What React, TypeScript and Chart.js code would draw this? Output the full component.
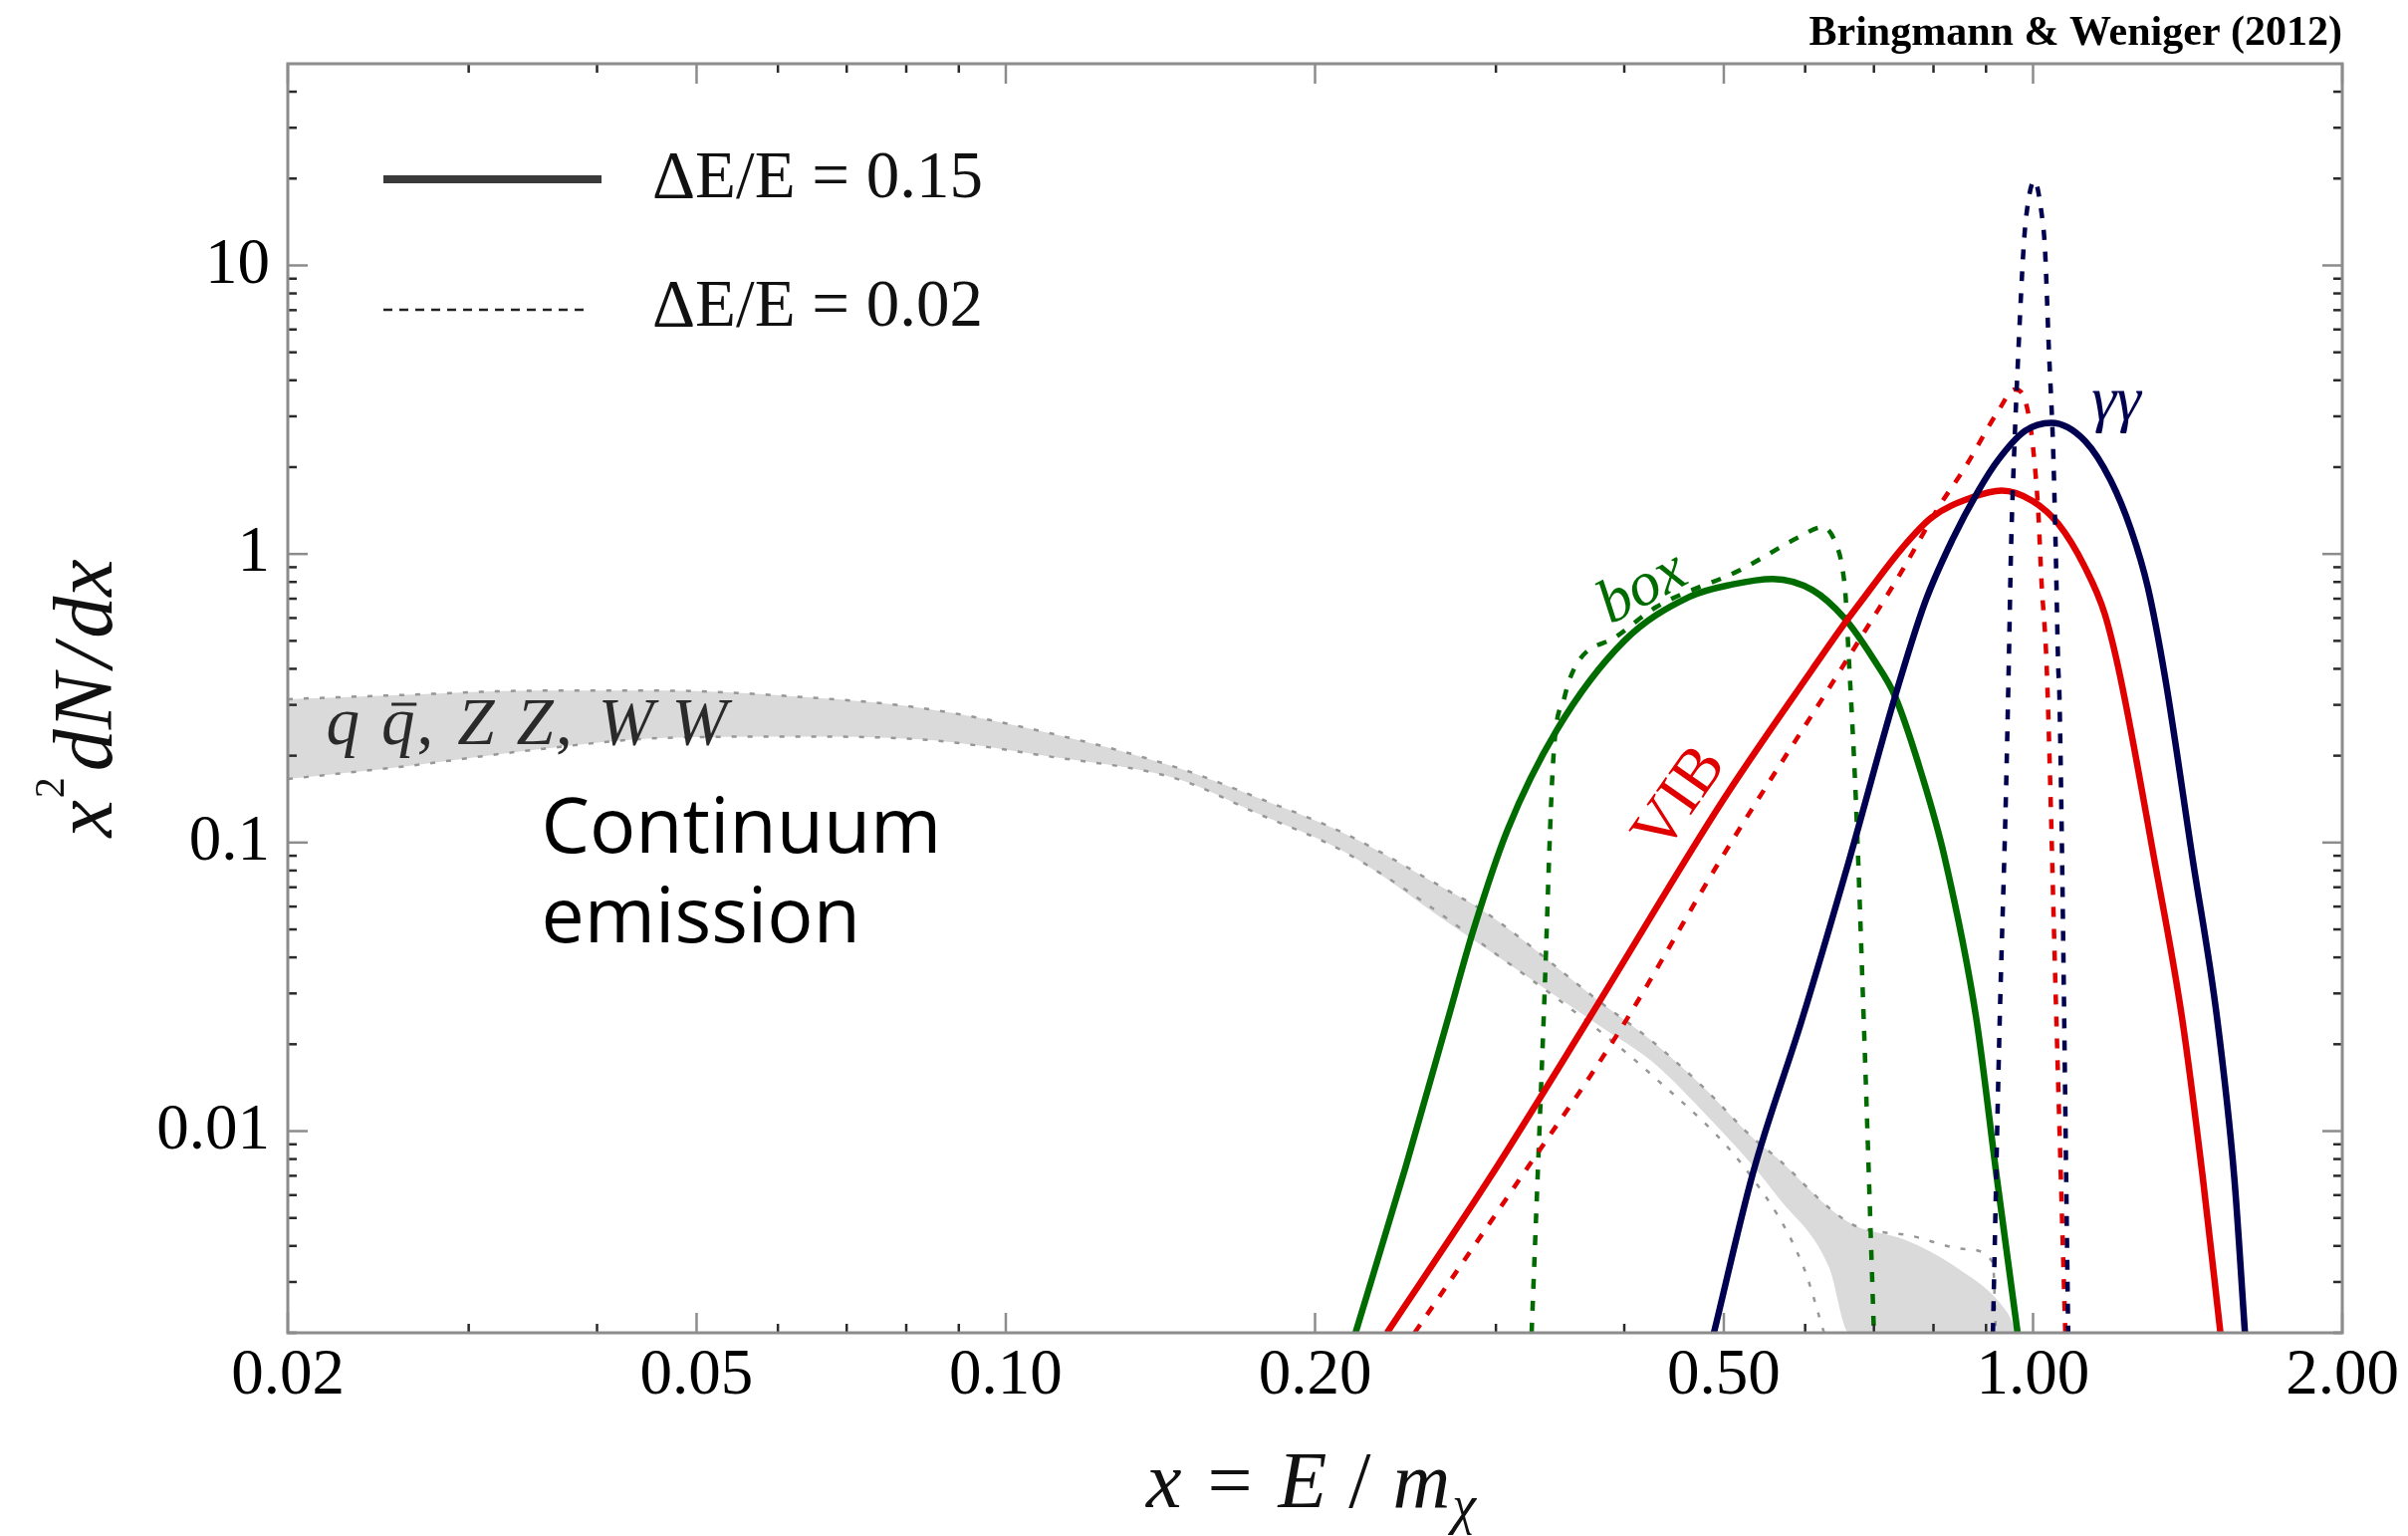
import React, { useEffect, useRef } from "react";
import { Chart, registerables } from "chart.js";

Chart.register(...registerables);

// ---------------- canvas / frame geometry ----------------
const CANVAS_W = 2418;
const CANVAS_H = 1542;
const PLOT = { left: 289, top: 64, right: 2352, bottom: 1338 };

// ---------------- axis ranges & ticks ----------------
const xRange = [0.02, 2];
const yRange = [0.002, 50];
const xTickValues = [0.02, 0.03, 0.04, 0.05, 0.06, 0.07, 0.08, 0.09, 0.1, 0.2, 0.3, 0.4, 0.5, 0.6, 0.7, 0.8, 0.9, 1, 2];
const xMajorTicks = [0.02, 0.05, 0.1, 0.2, 0.5, 1, 2];
const xTickLabels = ["0.02", "0.05", "0.10", "0.20", "0.50", "1.00", "2.00"];
const yTickValues = [
  0.002, 0.003, 0.004, 0.005, 0.006, 0.007, 0.008, 0.009, 0.01,
  0.02, 0.03, 0.04, 0.05, 0.06, 0.07, 0.08, 0.09, 0.1,
  0.2, 0.3, 0.4, 0.5, 0.6, 0.7, 0.8, 0.9, 1,
  2, 3, 4, 5, 6, 7, 8, 9, 10, 20, 30, 40,
];
const yMajorTicks = [0.01, 0.1, 1, 10];
const yTickLabels = ["0.01", "0.1", "1", "10"];
const legendLabels = ["\u0394E/E = 0.15", "\u0394E/E = 0.02"];

// ---------------- continuum (q qbar, ZZ, WW) ----------------
// grey band, dE/E = 0.15
const contUpperX = [0.02, 0.0261, 0.0349, 0.0465, 0.062, 0.0827, 0.11, 0.147, 0.175, 0.2146, 0.269, 0.292, 0.379, 0.425, 0.476, 0.534, 0.565, 0.633, 0.67, 0.751, 0.842, 0.944, 0.965];
const contUpperY = [0.314, 0.325, 0.336, 0.336, 0.321, 0.2925, 0.24, 0.1816, 0.144, 0.1067, 0.0684, 0.0578, 0.028, 0.0206, 0.01435, 0.00945, 0.008, 0.00542, 0.00471, 0.0042, 0.00337, 0.00235, 0.002];
const contLowerX = [0.02, 0.0261, 0.0349, 0.0465, 0.062, 0.0827, 0.11, 0.147, 0.175, 0.2146, 0.269, 0.379, 0.425, 0.476, 0.534, 0.565, 0.633, 0.662, 0.965];
const contLowerY = [0.166, 0.184, 0.21, 0.2305, 0.233, 0.2276, 0.199, 0.166, 0.127, 0.092, 0.053, 0.0231, 0.0175, 0.0118, 0.00756, 0.00588, 0.00337, 0.002, 0.002];
// dotted edges, dE/E = 0.02
const contDotUpperX = [0.02, 0.0261, 0.0349, 0.0465, 0.062, 0.0827, 0.11, 0.147, 0.175, 0.2146, 0.269, 0.292, 0.379, 0.425, 0.476, 0.534, 0.565, 0.633, 0.67, 0.762, 0.86, 0.914, 0.92];
const contDotUpperY = [0.314, 0.325, 0.336, 0.336, 0.321, 0.2925, 0.24, 0.1816, 0.144, 0.1067, 0.0684, 0.0578, 0.028, 0.0206, 0.01435, 0.00945, 0.008, 0.00542, 0.00471, 0.00433, 0.0039, 0.0035, 0.002];
const contDotLowerX = [0.02, 0.0261, 0.0349, 0.0465, 0.062, 0.0827, 0.11, 0.147, 0.175, 0.2146, 0.302, 0.425, 0.534, 0.598, 0.626];
const contDotLowerY = [0.166, 0.184, 0.21, 0.2305, 0.233, 0.2276, 0.199, 0.166, 0.127, 0.092, 0.0404, 0.0157, 0.00682, 0.00337, 0.002];

// ---------------- box ----------------
const boxWideX = [0.219, 0.245, 0.269, 0.2855, 0.308, 0.344, 0.4, 0.463, 0.51, 0.558, 0.61, 0.655, 0.7, 0.734, 0.78, 0.82, 0.88, 0.922, 0.966];
const boxWideY = [0.002, 0.0075, 0.024, 0.0503, 0.111, 0.246, 0.5, 0.711, 0.785, 0.82, 0.75, 0.6, 0.43, 0.321, 0.17, 0.0892, 0.0249, 0.0069, 0.002];
const boxNarrowX = [0.325, 0.334, 0.341, 0.35, 0.36, 0.393, 0.43, 0.518, 0.592, 0.624, 0.643, 0.652, 0.657, 0.66, 0.672, 0.684, 0.7];
const boxNarrowY = [0.002, 0.0253, 0.189, 0.321, 0.418, 0.517, 0.656, 0.878, 1.145, 1.24, 1.085, 0.9, 0.71, 0.52, 0.145, 0.025, 0.002];

// ---------------- VIB ----------------
const vibWideX = [0.235, 0.295, 0.37, 0.499, 0.61, 0.652, 0.677, 0.746, 0.797, 0.872, 0.932, 0.998, 1.058, 1.123, 1.174, 1.215, 1.311, 1.396, 1.463, 1.522];
const vibWideY = [0.002, 0.00677, 0.0247, 0.14, 0.399, 0.56, 0.67, 1.05, 1.34, 1.57, 1.66, 1.53, 1.273, 0.902, 0.622, 0.38, 0.0892, 0.0249, 0.0069, 0.002];
const vibNarrowX = [0.25, 0.316, 0.395, 0.499, 0.652, 0.703, 0.746, 0.809, 0.859, 0.925, 0.96, 0.985, 1.0, 1.012, 1.019, 1.031, 1.052, 1.075];
const vibNarrowY = [0.002, 0.00677, 0.022, 0.09, 0.405, 0.622, 0.878, 1.45, 2.0, 3.13, 3.72, 3.3, 2.34, 1.377, 0.811, 0.408, 0.03, 0.002];

// ---------------- gamma gamma line ----------------
const ggWideX = [0.489, 0.534, 0.595, 0.661, 0.734, 0.785, 0.834, 0.885, 0.925, 0.982, 1.042, 1.123, 1.19, 1.246, 1.293, 1.345, 1.429, 1.51, 1.57, 1.608];
const ggWideY = [0.002, 0.0072, 0.024, 0.085, 0.321, 0.68, 1.115, 1.66, 2.12, 2.67, 2.85, 2.47, 1.8, 1.21, 0.77, 0.37, 0.0892, 0.0249, 0.0069, 0.002];
const ggNarrowX = [0.914, 0.927, 0.941, 0.947, 0.952, 0.959, 0.968, 0.979, 0.985, 1.003, 1.02, 1.027, 1.036, 1.046, 1.052, 1.058, 1.061, 1.082];
const ggNarrowY = [0.002, 0.0207, 0.145, 0.41, 1.06, 2.34, 5.18, 11.5, 14.9, 19.7, 14.9, 11.5, 5.18, 2.34, 1.06, 0.41, 0.32, 0.002];

// ---------------- styles ----------------
const NAVY = "#000050";
const RED = "#e00000";
const GREEN = "#006c00";
const BAND = "#dadada";
const DOT_GREY = "#979797";
const SERIF = '"Liberation Serif", "Times New Roman", serif';
const SANS = '"Open Sans", "Noto Sans", sans-serif';
const WIDE_W = 6.5;
const NARROW_W = 4.5;
const NARROW_DASH = [10, 12];

const pts = (xs: number[], ys: number[]) => xs.map((x, i) => ({ x, y: ys[i] }));

function line(ctx: CanvasRenderingContext2D, x1: number, y1: number, x2: number, y2: number) {
  ctx.beginPath();
  ctx.moveTo(x1, y1);
  ctx.lineTo(x2, y2);
  ctx.stroke();
}

function text(
  ctx: CanvasRenderingContext2D,
  s: string,
  x: number,
  y: number,
  font: string,
  color: string,
  align: CanvasTextAlign = "left",
  baseline: CanvasTextBaseline = "alphabetic",
  rotDeg = 0
) {
  ctx.save();
  ctx.translate(x, y);
  if (rotDeg) ctx.rotate((rotDeg * Math.PI) / 180);
  ctx.font = font;
  ctx.fillStyle = color;
  ctx.textAlign = align;
  ctx.textBaseline = baseline;
  ctx.fillText(s, 0, 0);
  ctx.restore();
}

type Piece = { t: string; font: string; dy?: number; gap?: number; bar?: boolean };
// draws pieces one after another starting at 0 (or centred), baseline at 0 of the current transform
function rich(ctx: CanvasRenderingContext2D, pieces: Piece[], color: string, centred: boolean) {
  ctx.fillStyle = color;
  ctx.strokeStyle = color;
  ctx.textBaseline = "alphabetic";
  ctx.textAlign = "left";
  let total = 0;
  const widths = pieces.map((p) => {
    ctx.font = p.font;
    const w = ctx.measureText(p.t).width;
    total += w + (p.gap || 0);
    return w;
  });
  let cx = centred ? -total / 2 : 0;
  pieces.forEach((p, i) => {
    cx += p.gap || 0;
    ctx.font = p.font;
    ctx.fillText(p.t, cx, p.dy || 0);
    if (p.bar) {
      const size = parseFloat(p.font.replace(/^[a-z ]*/i, ""));
      ctx.lineWidth = Math.max(2, size * 0.045);
      line(ctx, cx + widths[i] * 0.3, -size * 0.6, cx + widths[i] * 1.05, -size * 0.6);
    }
    cx += widths[i];
  });
}

// annotation anchors in data coordinates
const annotations = [
  { s: "Continuum", x: 0.0353, y: 0.0922, font: `500 77px ${SANS}`, color: "#000", align: "left", base: "alphabetic", rot: 0 },
  { s: "emission", x: 0.0353, y: 0.0451, font: `500 77px ${SANS}`, color: "#000", align: "left", base: "alphabetic", rot: 0 },
  { s: "box", x: 0.417, y: 0.757, font: `italic 63px ${SERIF}`, color: GREEN, align: "center", base: "middle", rot: -28 },
  { s: "VIB", x: 0.454, y: 0.1405, font: `65px ${SERIF}`, color: RED, align: "center", base: "middle", rot: -55 },
  { s: "\u03b3\u03b3", x: 1.205, y: 3.35, font: `italic 63px ${SERIF}`, color: NAVY, align: "center", base: "middle", rot: 0 },
];
const channelLabelAnchor = { x: 0.0218, y: 0.219 };

const decorPlugin = {
  id: "decor",
  afterDatasetsDraw(chart: any) {
    const { ctx, chartArea: a, scales } = chart;
    const xs = scales.x;
    const ys = scales.y;
    ctx.save();
    // tick marks (inward, all four sides)
    ctx.lineWidth = 2.5;
    for (const t of xs.ticks) {
      const px = xs.getPixelForValue(t.value);
      const len = t.major ? 20 : 9;
      ctx.strokeStyle = t.major ? "#8c8c8c" : "#2a2a2a";
      line(ctx, px, a.bottom, px, a.bottom - len);
      line(ctx, px, a.top, px, a.top + len);
    }
    for (const t of ys.ticks) {
      const py = ys.getPixelForValue(t.value);
      const len = t.major ? 20 : 9;
      ctx.strokeStyle = t.major ? "#8c8c8c" : "#2a2a2a";
      line(ctx, a.left, py, a.left + len, py);
      line(ctx, a.right, py, a.right - len, py);
    }
    // frame
    ctx.strokeStyle = "#8c8c8c";
    ctx.lineWidth = 3;
    ctx.strokeRect(a.left, a.top, a.right - a.left, a.bottom - a.top);
    ctx.restore();
  },
  afterDraw(chart: any) {
    const { ctx, chartArea: a, scales } = chart;
    const xs = scales.x;
    const ys = scales.y;
    ctx.save();

    // credit
    text(ctx, "Bringmann & Weniger (2012)", a.right, a.top - 19, `bold 42px ${SERIF}`, "#000", "right");

    // legend
    ctx.strokeStyle = "#3a3a3a";
    ctx.lineWidth = 8;
    line(ctx, a.left + 96, a.top + 116, a.left + 315, a.top + 116);
    ctx.lineWidth = 2.5;
    ctx.setLineDash([9, 7]);
    ctx.strokeStyle = "#222";
    line(ctx, a.left + 96, a.top + 247, a.left + 300, a.top + 247);
    ctx.setLineDash([]);
    text(ctx, legendLabels[0], a.left + 366, a.top + 116, `67px ${SERIF}`, "#111", "left", "middle");
    text(ctx, legendLabels[1], a.left + 366, a.top + 245, `67px ${SERIF}`, "#111", "left", "middle");

    // channel label q qbar, ZZ, WW
    ctx.save();
    ctx.translate(xs.getPixelForValue(channelLabelAnchor.x), ys.getPixelForValue(channelLabelAnchor.y));
    const it = `italic 67px ${SERIF}`;
    const up = `67px ${SERIF}`;
    rich(
      ctx,
      [
        { t: "q", font: it },
        { t: "q", font: it, gap: 22, bar: true },
        { t: ",", font: up, gap: 2 },
        { t: "Z", font: it, gap: 24 },
        { t: "Z", font: it, gap: 22 },
        { t: ",", font: up, gap: 2 },
        { t: "W", font: it, gap: 26 },
        { t: "W", font: it, gap: 18 },
      ],
      "#2a2a2a",
      false
    );
    ctx.restore();

    // in-plot annotations
    for (const an of annotations) {
      const px = xs.getPixelForValue(an.x);
      const py = ys.getPixelForValue(an.y);
      text(ctx, an.s, px, py, an.font, an.color, an.align as CanvasTextAlign, an.base as CanvasTextBaseline, an.rot);
    }

    // x-axis title
    ctx.save();
    ctx.translate((a.left + a.right) / 2 - 4, a.bottom + 175);
    rich(
      ctx,
      [
        { t: "x", font: `italic 80px ${SERIF}` },
        { t: "=", font: `80px ${SERIF}`, gap: 26 },
        { t: "E", font: `italic 80px ${SERIF}`, gap: 26 },
        { t: "/", font: `80px ${SERIF}`, gap: 22 },
        { t: "m", font: `italic 80px ${SERIF}`, gap: 22 },
        { t: "\u03c7", font: `italic 54px ${SERIF}`, dy: 16, gap: 2 },
      ],
      "#111",
      true
    );
    ctx.restore();

    // y-axis title
    ctx.save();
    ctx.translate(112, (a.top + a.bottom) / 2);
    ctx.rotate(-Math.PI / 2);
    rich(
      ctx,
      [
        { t: "x", font: `italic 84px ${SERIF}` },
        { t: "2", font: `42px ${SERIF}`, dy: -48, gap: 2 },
        { t: "dN", font: `italic 84px ${SERIF}`, gap: 6 },
        { t: "/", font: `italic 84px ${SERIF}`, gap: 6 },
        { t: "dx", font: `italic 84px ${SERIF}`, gap: 6 },
      ],
      "#111",
      true
    );
    ctx.restore();

    ctx.restore();
  },
};

function wide(label: string, xs: number[], ys: number[], color: string) {
  return {
    label,
    data: pts(xs, ys),
    borderColor: color,
    borderWidth: WIDE_W,
    pointRadius: 0,
    cubicInterpolationMode: "monotone",
    fill: false,
  };
}
function narrow(label: string, xs: number[], ys: number[], color: string) {
  return {
    label,
    data: pts(xs, ys),
    borderColor: color,
    borderWidth: NARROW_W,
    borderDash: NARROW_DASH,
    pointRadius: 0,
    cubicInterpolationMode: "monotone",
    fill: false,
  };
}

export default function App() {
  const ref = useRef<HTMLCanvasElement | null>(null);

  useEffect(() => {
    const canvas = ref.current;
    if (!canvas) return;
    const datasets: any[] = [
      wide("\u03b3\u03b3, \u0394E/E = 0.15", ggWideX, ggWideY, NAVY),
      narrow("\u03b3\u03b3, \u0394E/E = 0.02", ggNarrowX, ggNarrowY, NAVY),
      wide("VIB, \u0394E/E = 0.15", vibWideX, vibWideY, RED),
      narrow("VIB, \u0394E/E = 0.02", vibNarrowX, vibNarrowY, RED),
      wide("box, \u0394E/E = 0.15", boxWideX, boxWideY, GREEN),
      narrow("box, \u0394E/E = 0.02", boxNarrowX, boxNarrowY, GREEN),
      {
        label: "continuum upper, \u0394E/E = 0.02",
        data: pts(contDotUpperX, contDotUpperY),
        borderColor: DOT_GREY,
        borderWidth: 2.5,
        borderDash: [5, 11],
        pointRadius: 0,
        cubicInterpolationMode: "monotone",
        fill: false,
      },
      {
        label: "continuum lower, \u0394E/E = 0.02",
        data: pts(contDotLowerX, contDotLowerY),
        borderColor: DOT_GREY,
        borderWidth: 2.5,
        borderDash: [5, 11],
        pointRadius: 0,
        cubicInterpolationMode: "monotone",
        fill: false,
      },
      {
        label: "continuum band upper",
        data: pts(contUpperX, contUpperY),
        borderColor: "rgba(0,0,0,0)",
        borderWidth: 0,
        backgroundColor: BAND,
        pointRadius: 0,
        cubicInterpolationMode: "monotone",
        fill: "+1",
      },
      {
        label: "continuum band lower",
        data: pts(contLowerX, contLowerY),
        borderColor: "rgba(0,0,0,0)",
        borderWidth: 0,
        pointRadius: 0,
        cubicInterpolationMode: "monotone",
        fill: false,
      },
    ];

    const chart = new Chart(canvas, {
      type: "line",
      data: { datasets },
      plugins: [decorPlugin],
      options: {
        responsive: false,
        animation: false,
        devicePixelRatio: 1,
        layout: {
          padding: { left: 0, top: PLOT.top, right: CANVAS_W - PLOT.right, bottom: 0 },
        },
        plugins: { legend: { display: false }, tooltip: { enabled: false } },
        elements: { line: { borderCapStyle: "butt" } },
        scales: {
          x: {
            type: "logarithmic",
            position: "bottom",
            min: xRange[0],
            max: xRange[1],
            afterBuildTicks: (s: any) => {
              s.ticks = xTickValues.map((v) => ({ value: v, major: xMajorTicks.includes(v) }));
            },
            afterFit: (s: any) => {
              s.height = CANVAS_H - PLOT.bottom;
            },
            grid: { display: false, drawTicks: false },
            border: { display: false },
            ticks: {
              autoSkip: false,
              maxRotation: 0,
              minRotation: 0,
              padding: 5,
              color: "#000",
              font: { family: SERIF, size: 65 },
              callback: (v: any) => {
                const i = xMajorTicks.indexOf(Number(v));
                return i >= 0 ? xTickLabels[i] : "";
              },
            },
          },
          y: {
            type: "logarithmic",
            position: "left",
            min: yRange[0],
            max: yRange[1],
            afterBuildTicks: (s: any) => {
              s.ticks = yTickValues.map((v) => ({ value: v, major: yMajorTicks.includes(v) }));
            },
            afterFit: (s: any) => {
              s.width = PLOT.left;
            },
            grid: { display: false, drawTicks: false },
            border: { display: false },
            ticks: {
              autoSkip: false,
              padding: 18,
              color: "#000",
              font: { family: SERIF, size: 65 },
              callback: (v: any) => {
                const i = yMajorTicks.indexOf(Number(v));
                return i >= 0 ? yTickLabels[i] : "";
              },
            },
          },
        },
      } as any,
    });
    return () => chart.destroy();
  }, []);

  return (
    <div
      style={{
        position: "absolute",
        left: 0,
        top: 0,
        width: CANVAS_W,
        height: CANVAS_H,
        background: "#fff",
        overflow: "hidden",
      }}
    >
      <canvas
        ref={ref}
        width={CANVAS_W}
        height={CANVAS_H}
        style={{ display: "block", width: CANVAS_W, height: CANVAS_H }}
      />
    </div>
  );
}
